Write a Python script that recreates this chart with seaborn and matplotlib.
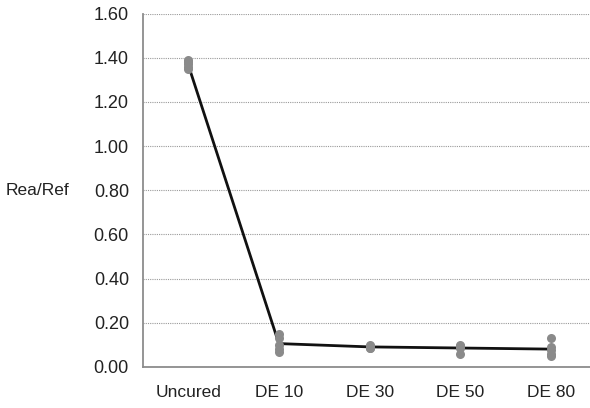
import matplotlib
matplotlib.use("Agg")
import matplotlib.pyplot as plt
import seaborn as sns
import pandas as pd

categories = ["Uncured", "DE 10", "DE 30", "DE 50", "DE 80"]
uncured = [1.39, 1.38, 1.37, 1.36, 1.35]
de10 = [0.15, 0.13, 0.10, 0.08, 0.07]
de30 = [0.10, 0.095, 0.09, 0.085, 0.085]
de50 = [0.10, 0.095, 0.09, 0.085, 0.06]
de80 = [0.13, 0.09, 0.075, 0.06, 0.05]
y_ticks = [0.0, 0.2, 0.4, 0.6, 0.8, 1.0, 1.2, 1.4, 1.6]
y_label = "Rea/Ref"

series = [uncured, de10, de30, de50, de80]
rows = []
for cat, vals in zip(categories, series):
    for v in vals:
        rows.append({"group": cat, "value": v})
df = pd.DataFrame(rows)

sns.set_style("white")
plt.rcParams["font.family"] = ["Liberation Sans", "DejaVu Sans"]

fig = plt.figure(figsize=(5.9, 4.08), dpi=100)
ax = fig.add_axes([0.242, 0.1005, 0.758, 0.866])

sns.pointplot(data=df, x="group", y="value", order=categories, errorbar=None,
              color="#111111", markers="", linestyles="-", linewidth=2.0, ax=ax, zorder=2)
sns.stripplot(data=df, x="group", y="value", order=categories, jitter=False,
              color="#8a8a8a", size=6.5, linewidth=0, ax=ax, zorder=3)

ax.set_ylim(0, 1.6)
ax.set_xlim(-0.5, 4.43)
ax.set_yticks(y_ticks)
ax.set_yticklabels([f"{t:.2f}" for t in y_ticks])
ax.set_xlabel("")
ax.set_ylabel("")
ax.yaxis.grid(True, linestyle=(0, (1, 1)), color="#9a9a9a", linewidth=0.8)
ax.xaxis.grid(False)
ax.set_axisbelow(True)
for s in ["top", "right"]:
    ax.spines[s].set_visible(False)
for s in ["left", "bottom"]:
    ax.spines[s].set_color("#8c8c8c")
    ax.spines[s].set_linewidth(1.3)
ax.tick_params(axis="y", length=0, pad=10, labelsize=13, labelcolor="#222222")
ax.tick_params(axis="x", length=0, pad=13, labelsize=12.5, labelcolor="#222222")
fig.text(0.01, ax.transData.transform((0, 0.8))[1] / fig.bbox.height, y_label,
         fontsize=12.5, color="#222222", va="center", ha="left")

fig.savefig("out.png", dpi=100)
